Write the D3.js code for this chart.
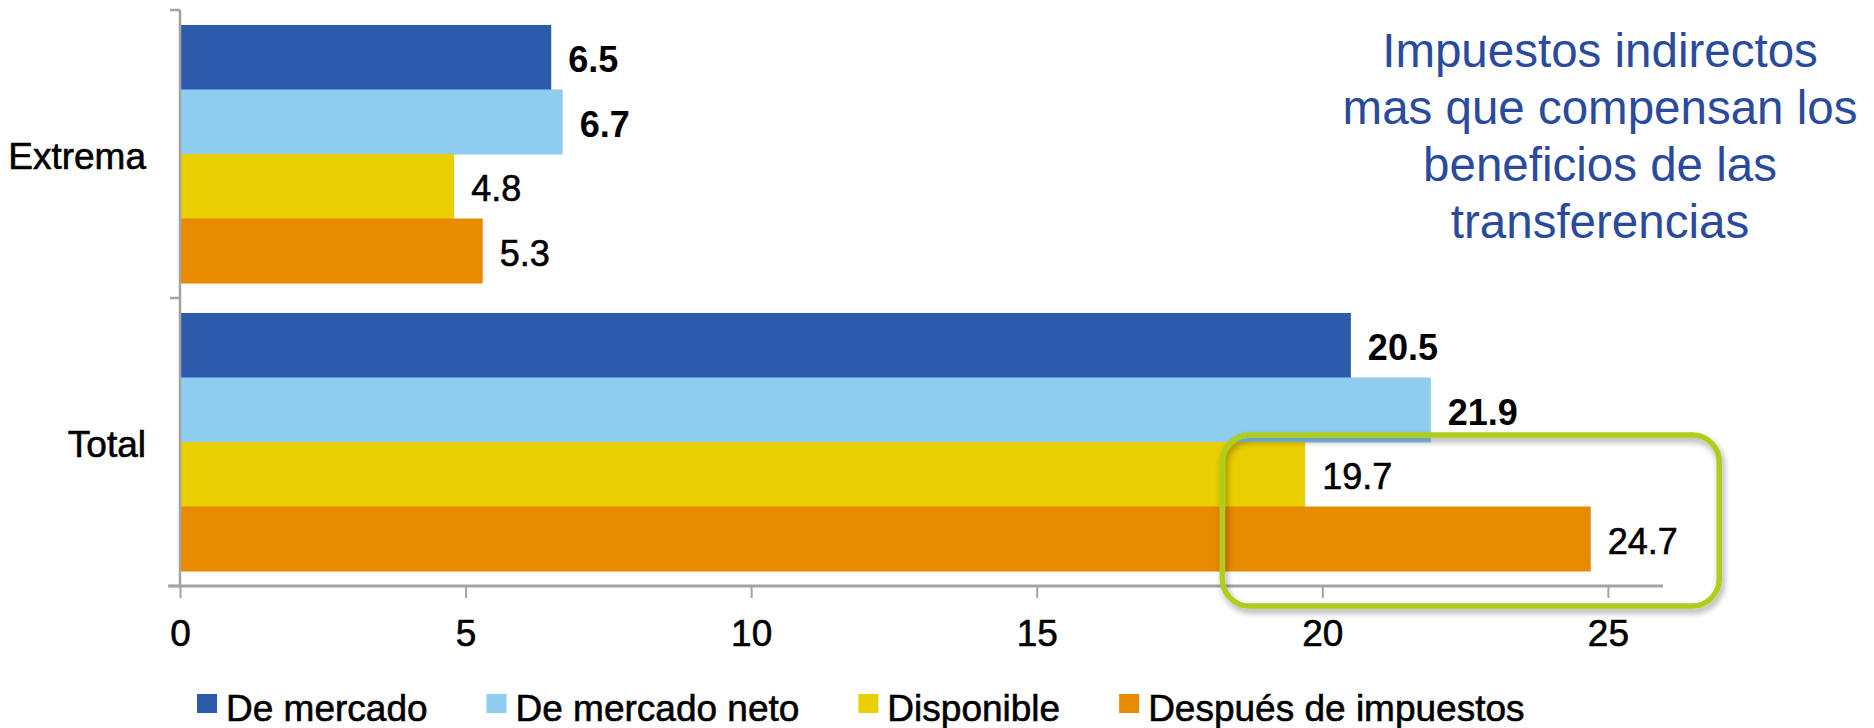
<!DOCTYPE html>
<html>
<head>
<meta charset="utf-8">
<script src="https://cdn.jsdelivr.net/npm/d3@7"></script>
<style>
  html, body { margin: 0; padding: 0; background: #ffffff; }
  svg { display: block; font-family: "Liberation Sans", Arial, Helvetica, sans-serif; }
</style>
</head>
<body>
<svg id="chart" width="1874" height="728"></svg>
<script>
// ---- data ----
const categories = ["Extrema", "Total"];
const seriesNames = ["De mercado", "De mercado neto", "Disponible", "Después de impuestos"];
const deMercado = [6.5, 20.5];
const deMercadoNeto = [6.7, 21.9];
const disponible = [4.8, 19.7];
const despuesImpuestos = [5.3, 24.7];
const xTicks = [0, 5, 10, 15, 20, 25];
const seriesColors = ["#2C5BAA", "#8FCDF0", "#E9CE00", "#E88A00"];
const labelWeights = ["bold", "bold", "normal", "normal"];
const titleLines = ["Impuestos indirectos", "mas que compensan los", "beneficios de las", "transferencias"];

const seriesValues = [deMercado, deMercadoNeto, disponible, despuesImpuestos];

const svg = d3.select("#chart");
const axisColor = "#a3a3a3";
const heavy = 0.6; // slight stroke to match heavier text rendering

// ---- scales ----
const x = d3.scaleLinear().domain([0, 26]).range([180, 1665]);
const y0 = d3.scaleBand().domain(categories).range([10, 586]).paddingInner(0.104).paddingOuter(0.052);
const y1 = d3.scaleBand().domain(seriesNames).range([0, y0.bandwidth()]);

// ---- bars ----
const groups = svg.append("g").selectAll("g")
  .data(categories)
  .join("g")
  .attr("transform", c => `translate(0,${y0(c)})`);

groups.selectAll("rect")
  .data((c, ci) => seriesNames.map((s, si) => ({ s, si, v: seriesValues[si][ci] })))
  .join("rect")
  .attr("x", x(0))
  .attr("y", d => y1(d.s))
  .attr("width", d => x(d.v) - x(0))
  .attr("height", y1.bandwidth() + 0.5)
  .attr("fill", d => seriesColors[d.si]);

groups.selectAll("text.val")
  .data((c, ci) => seriesNames.map((s, si) => ({ s, si, v: seriesValues[si][ci] })))
  .join("text")
  .attr("class", "val")
  .attr("x", d => x(d.v) + 17)
  .attr("y", d => y1(d.s) + y1.bandwidth() / 2 + 15)
  .attr("font-size", 36)
  .attr("font-weight", d => labelWeights[d.si])
  .attr("fill", "#000")
  .attr("stroke", d => labelWeights[d.si] === "bold" ? "none" : "#000")
  .attr("stroke-width", heavy)
  .text(d => d.v.toFixed(1));

// ---- x axis ----
const xAxis = d3.axisBottom(x).tickValues(xTicks).tickSize(12).tickSizeOuter(0).tickPadding(22)
  .tickFormat(d3.format("d"));
const gx = svg.append("g").attr("transform", "translate(0,586)").call(xAxis);
gx.select(".domain").remove();
gx.selectAll(".tick line").attr("stroke", axisColor).attr("stroke-width", 2);
gx.selectAll(".tick text").attr("font-size", 37).attr("fill", "#000")
  .attr("stroke", "#000").attr("stroke-width", heavy)
  .attr("font-family", "Liberation Sans, Arial, sans-serif");
svg.append("line")
  .attr("x1", x(0) - 12).attr("x2", 1663)
  .attr("y1", 586).attr("y2", 586)
  .attr("stroke", axisColor).attr("stroke-width", 3);

// ---- y axis ----
const yr = y0.range();
svg.append("line")
  .attr("x1", x(0)).attr("x2", x(0))
  .attr("y1", yr[0]).attr("y2", yr[1])
  .attr("stroke", axisColor).attr("stroke-width", 2.5);
const boundaries = categories.map(c => y0(c) - y0.step() * y0.paddingOuter()).concat([yr[1]]);
svg.append("g").selectAll("line")
  .data(boundaries)
  .join("line")
  .attr("x1", x(0) - 10).attr("x2", x(0))
  .attr("y1", d => d).attr("y2", d => d)
  .attr("stroke", axisColor).attr("stroke-width", 2.5);

const yAxis = d3.axisLeft(y0).tickSize(0).tickPadding(34);
const gy = svg.append("g").attr("transform", `translate(${x(0)},0)`).call(yAxis);
gy.select(".domain").remove();
gy.selectAll(".tick text")
  .attr("font-size", 37).attr("fill", "#000")
  .attr("stroke", "#000").attr("stroke-width", heavy)
  .attr("font-family", "Liberation Sans, Arial, sans-serif")
  .attr("dy", null).attr("y", 15);

// ---- annotation box ----
const defs = svg.append("defs");
const f = defs.append("filter").attr("id", "shadow").attr("x", "-10%").attr("y", "-10%").attr("width", "120%").attr("height", "130%");
f.append("feDropShadow").attr("dx", 2).attr("dy", 4).attr("stdDeviation", 3)
  .attr("flood-color", "#000").attr("flood-opacity", 0.35);
const boxTop = y0("Total") + y1("Disponible") - 7;
svg.append("rect")
  .attr("x", x(18.25)).attr("y", boxTop)
  .attr("width", x(26.95) - x(18.25))
  .attr("height", 606 - boxTop)
  .attr("rx", 27).attr("ry", 27)
  .attr("fill", "none")
  .attr("stroke", "#AECD1F")
  .attr("stroke-width", 5.5)
  .attr("filter", "url(#shadow)");

// ---- title annotation ----
svg.append("text")
  .attr("x", 1600).attr("y", 66.5)
  .attr("text-anchor", "middle")
  .attr("font-size", 47.5)
  .attr("fill", "#2A4A9C")
  .selectAll("tspan")
  .data(titleLines)
  .join("tspan")
  .attr("x", 1600)
  .attr("dy", (d, i) => i === 0 ? 0 : 57)
  .text(d => d);

// ---- legend ----
const legend = svg.append("g");
let lx = 197;
seriesNames.forEach((s, i) => {
  legend.append("rect")
    .attr("x", lx).attr("y", 694)
    .attr("width", 20).attr("height", 19)
    .attr("fill", seriesColors[i]);
  const t = legend.append("text")
    .attr("x", lx + 29).attr("y", 721)
    .attr("font-size", 37).attr("fill", "#000")
    .attr("stroke", "#000").attr("stroke-width", heavy)
    .text(s);
  lx += 29 + t.node().getComputedTextLength() + 59;
});
</script>
</body>
</html>
